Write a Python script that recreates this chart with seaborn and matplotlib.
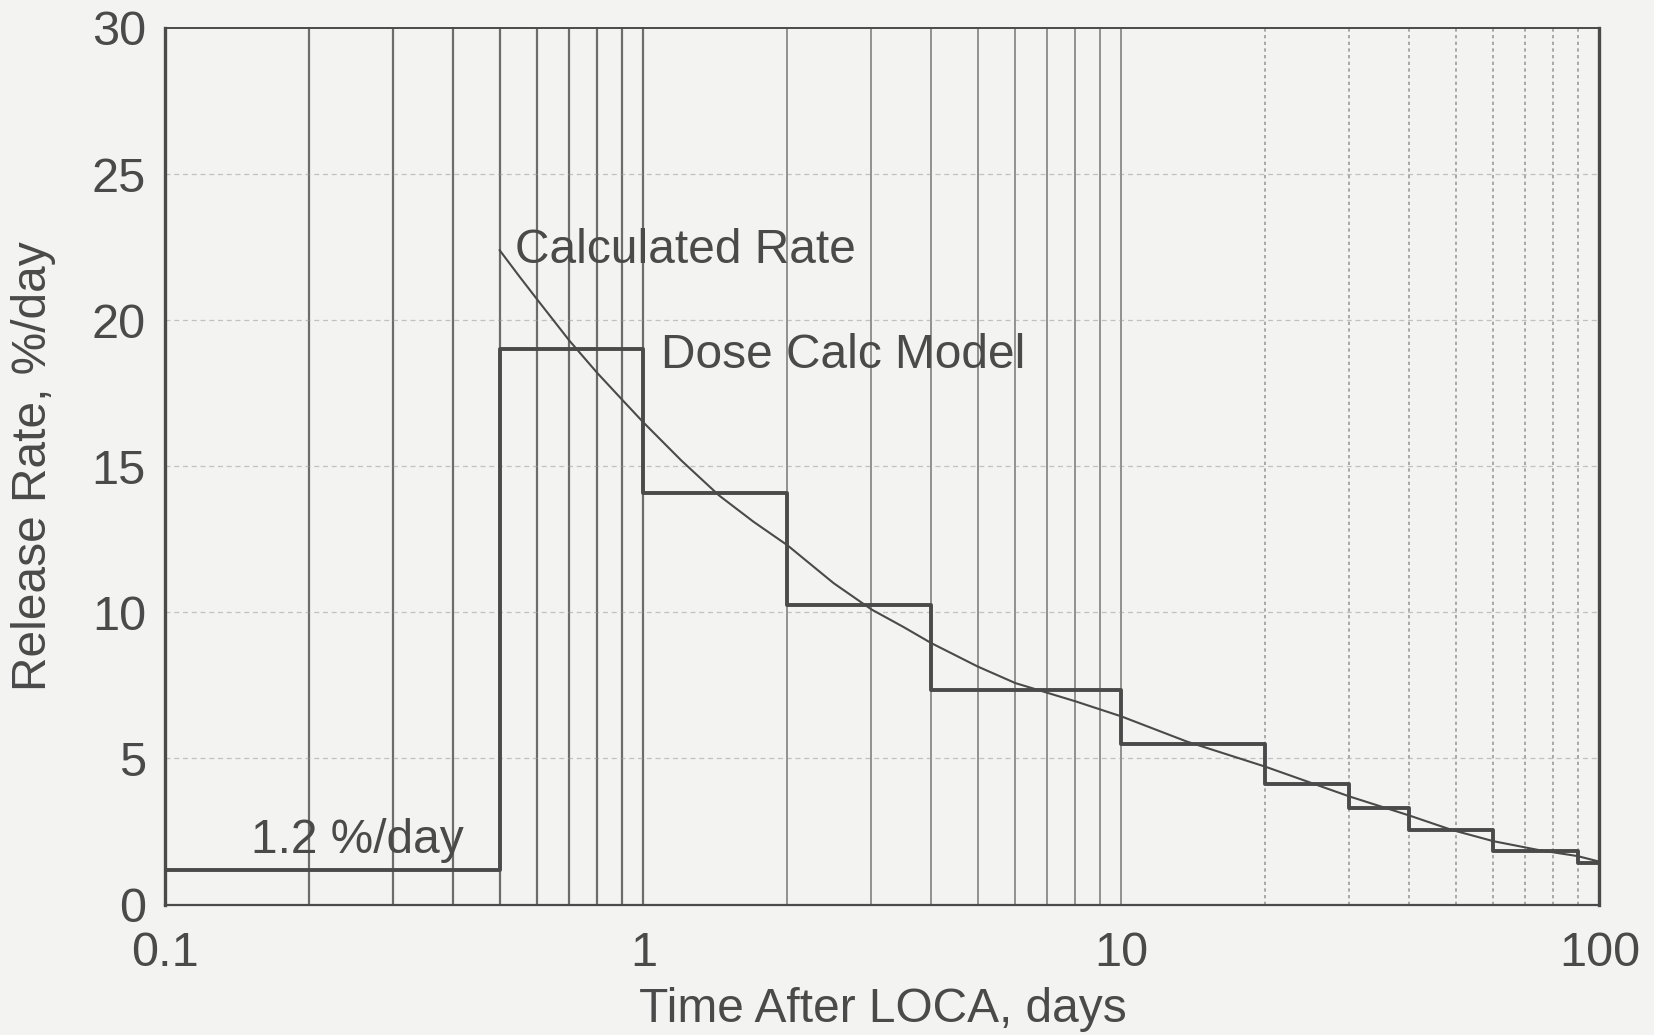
import numpy as np
import pandas as pd
import matplotlib
matplotlib.use("Agg")
import matplotlib.pyplot as plt
import seaborn as sns
from matplotlib.ticker import FixedLocator, NullFormatter

# step model ("Dose Calc Model"): interval edges and rate in each interval
step_edges = [0.1, 0.5, 1, 2, 4, 10, 20, 30, 40, 60, 90, 100]
step_rates = [1.2, 19.0, 14.1, 10.25, 7.35, 5.5, 4.13, 3.32, 2.56, 1.84, 1.42]

# calculated release rate curve
calc_time = [0.5, 0.55, 0.6, 0.7, 0.8, 0.9, 1.0, 1.2, 1.44, 1.7, 2.0, 2.5, 3.0, 3.5, 4.0,
             5.0, 6.0, 8.0, 10, 13.7, 20, 30, 40, 49, 60, 75, 90, 100]
calc_rate = [22.4, 21.5, 20.7, 19.3, 18.2, 17.3, 16.5, 15.2, 14.0, 13.1, 12.3, 11.0, 10.1, 9.5, 8.95,
             8.15, 7.58, 6.96, 6.44, 5.58, 4.72, 3.7, 3.05, 2.56, 2.17, 1.86, 1.66, 1.47]

x_major = [0.1, 1, 10, 100]
x_major_labels = ["0.1", "1", "10", "100"]
y_ticks = [0, 5, 10, 15, 20, 25, 30]

INK = "#4a4a4a"
BG = "#f3f3f1"
FS = 34.5

sns.set_style("white")
plt.rcParams["font.family"] = ["Liberation Sans", "DejaVu Sans"]

fig = plt.figure(figsize=(16.54, 10.35), dpi=100, facecolor=BG)
ax = fig.add_axes([0.100, 0.126, 0.867, 0.847])
ax.set_facecolor(BG)

step_df = pd.DataFrame({"t": step_edges, "r": step_rates + [step_rates[-1]]})
calc_df = pd.DataFrame({"t": calc_time, "r": calc_rate})

sns.lineplot(data=step_df, x="t", y="r", drawstyle="steps-post", color=INK,
             linewidth=2.8, ax=ax, zorder=4)
sns.lineplot(data=calc_df, x="t", y="r", color=INK, linewidth=1.5, ax=ax, zorder=5)

ax.set_xscale("log")
ax.set_xlim(0.1, 100)
ax.set_ylim(0, 30)

# vertical grid at every log tick, heavier in the first decades
minor_pos = [m * d for d in [0.1, 1, 10] for m in range(2, 10)]
for v in minor_pos + x_major[1:-1]:
    if v < 1.01:
        ax.axvline(v, color="#555555", lw=1.6, alpha=0.85, zorder=1)
    elif v < 10.1:
        ax.axvline(v, color="#666666", lw=1.3, alpha=0.75, zorder=1)
    else:
        ax.axvline(v, color="#777777", lw=1.2, ls=(0, (2, 2)), alpha=0.7, zorder=1)
for h in y_ticks[1:-1]:
    ax.axhline(h, color="#999999", lw=0.9, ls=(0, (4, 3)), alpha=0.55, zorder=1)

ax.xaxis.set_major_locator(FixedLocator(x_major))
ax.set_xticklabels(x_major_labels)
ax.xaxis.set_minor_locator(FixedLocator(minor_pos))
ax.xaxis.set_minor_formatter(NullFormatter())
ax.set_yticks(y_ticks)

ax.tick_params(axis="both", which="major", labelsize=35, colors=INK, length=11, width=1.6,
               direction="out")
ax.tick_params(axis="y", which="major", pad=3)
ax.tick_params(axis="x", which="major", pad=8)
ax.tick_params(axis="x", which="minor", length=11, width=1.5, colors=INK, direction="out")

for side in ["left", "bottom", "top", "right"]:
    ax.spines[side].set_color(INK)
ax.spines["left"].set_linewidth(2.4)
ax.spines["bottom"].set_linewidth(1.6)
ax.spines["top"].set_linewidth(1.4)
ax.spines["right"].set_linewidth(2.4)

ax.set_xlabel("Time After LOCA, days", fontsize=FS, color=INK, labelpad=8)
ax.set_ylabel("Release Rate, %/day", fontsize=FS, color=INK, labelpad=26)

ax.text(0.54, 22.4, "Calculated Rate", fontsize=FS, color=INK, va="center", ha="left", zorder=6)
ax.text(1.09, 18.8, "Dose Calc Model", fontsize=FS, color=INK, va="center", ha="left", zorder=6)
ax.text(0.151, 2.2, "1.2 %/day", fontsize=FS, color=INK, va="center", ha="left", zorder=6)

fig.savefig("out.png", dpi=100, facecolor=BG)
